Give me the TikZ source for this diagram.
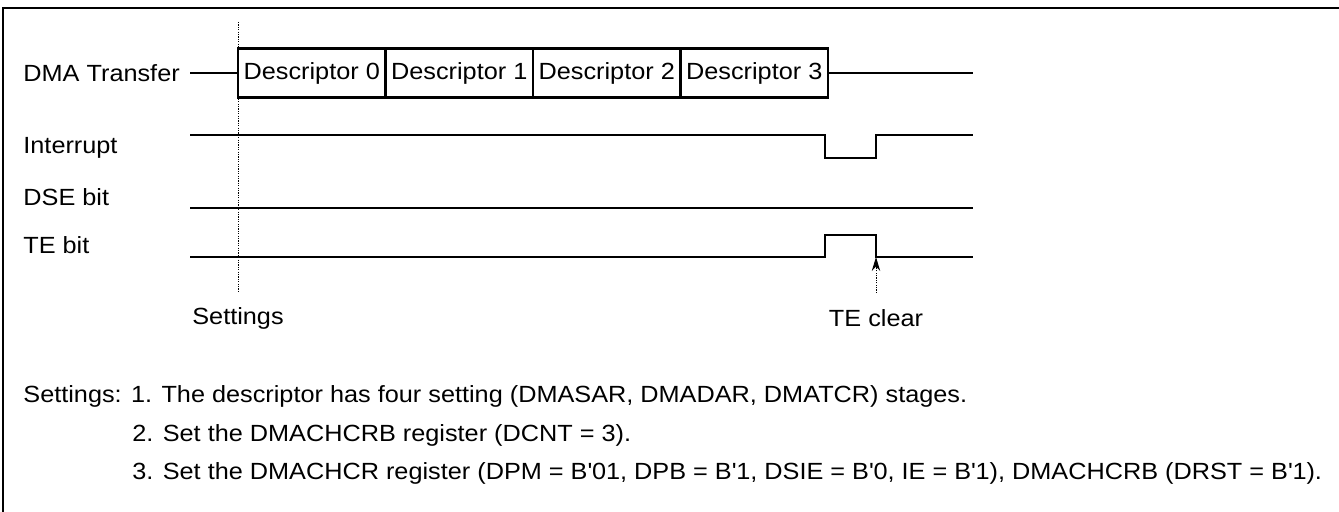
\documentclass[tikz,border=0pt]{standalone}
\usepackage{fontspec}
\setmainfont{Liberation Sans}[FakeStretch=1.08]
\usetikzlibrary{arrows.meta,positioning}

\tikzset{
  lbl/.style={anchor=west, inner sep=0pt},
  descbox/.style={draw, line width=1.35pt, outer sep=0pt, inner sep=0pt,
    minimum width=73.75pt, minimum height=24.5pt},
  sig/.style={line width=1.4pt},
  guide/.style={line width=0.5pt, dash pattern=on 0.6pt off 0.6pt}
}
\newcommand{\tq}{\textquotesingle}

\begin{document}
\begin{tikzpicture}[x=0.5pt, y=-0.5pt, >=Stealth, font=\fontsize{11.7}{14}\selectfont]

  \useasboundingbox (0,0) rectangle (1339,512);

  % Frame (left and top edges only)
  \draw[line width=1.35pt] (3,520) -- (3,8) -- (1350,8);

  % Settings guide
  \draw[guide] (238,22) -- (238,293);

  % Signal names
  \node[lbl] (dmalbl) at (23,73) {DMA Transfer};
  \node[lbl] (intlbl) at (23,148) {Interrupt};
  \node[lbl] (dselbl) at (23,197) {DSE bit};
  \node[lbl] (telbl)  at (23,245) {TE bit};

  % Descriptor boxes
  \node[descbox, anchor=west] (d0) at (238,73) {Descriptor 0};
  \foreach \i [count=\j from 0] in {1,2,3} {
    \node[descbox, right=0pt of d\j] (d\i) {Descriptor \i};
  }
  \coordinate (dmastart) at (190,73);
  \coordinate (dmaend) at (973,73);
  \draw[line width=0.6pt] (dmastart) -- (d0.west);
  \draw[line width=0.6pt] (d3.east) -- (dmaend);

  % Interrupt
  \draw[sig] (190,135) -- (825,135) -- (825,158) -- (876,158) -- (876,135) -- (973,135);

  % DSE bit
  \draw[sig] (190,208) -- (973,208);

  % TE bit
  \draw[sig] (190,257) -- (825,257) -- (825,235) -- (876,235) -- (876,257) -- (973,257);

  % TE clear marker
  \coordinate (teclr) at (876,257);
  \coordinate (tefoot) at (876,293);
  \draw[guide] (tefoot) -- (876,268);
  \draw[-{Stealth[length=7pt, width=4.2pt]}, line width=0.5pt] (876,269) -- (teclr);
  \node (teclrlbl) at (876,318) {TE clear};
  \node (setlbl) at (238,318) {Settings};

  % Notes
  \node[lbl] (note1) at (23,396) {Settings: 1. The descriptor has four setting (DMASAR, DMADAR, DMATCR) stages.};
  \node[lbl] (note2) at (132,435) {2. Set the DMACHCRB register (DCNT = 3).};
  \node[lbl] (note3) at (132,473) {3. Set the DMACHCR register (DPM = B\tq01, DPB = B\tq1, DSIE = B\tq0, IE = B\tq1), DMACHCRB (DRST = B\tq1).};

\end{tikzpicture}
\end{document}
